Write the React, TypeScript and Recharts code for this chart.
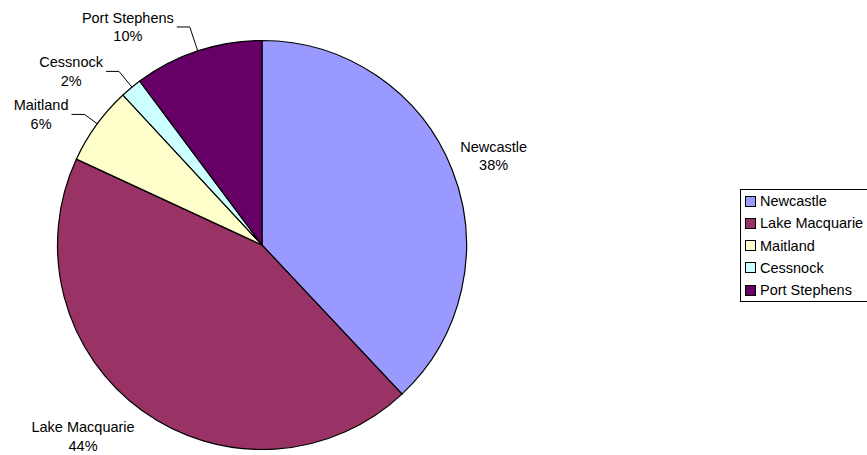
import React from 'react';
import { PieChart, Pie, Cell, Legend } from 'recharts';

const categories = ['Newcastle', 'Lake Macquarie', 'Maitland', 'Cessnock', 'Port Stephens'];
const shares = [38.0, 43.9, 6.2, 1.7, 10.2];
const colors = ['#9999FF', '#993366', '#FFFFCC', '#CCFFFF', '#660066'];

const data = categories.map((name, i) => ({ name, value: shares[i] }));

const FONT = '"Liberation Sans", Arial, sans-serif';
const FONT_SIZE = 14.5;
const LINE_H = 18.3;
const LABEL_GAP = 50;
const labelNudge: [number, number][] = [[-5, 5], [-30, -15], [-15, 19], [-28, 22], [-54, 23.5]];
const hasLeader = [false, false, true, true, true];
const RAD = Math.PI / 180;

let ctx: CanvasRenderingContext2D | null = null;
function textWidth(s: string): number {
  if (!ctx) {
    const c = document.createElement('canvas');
    ctx = c.getContext('2d');
  }
  if (!ctx) return s.length * FONT_SIZE * 0.55;
  ctx.font = `${FONT_SIZE}px "Liberation Sans", Arial, sans-serif`;
  return ctx.measureText(s).width;
}

function renderLabel(props: any) {
  const { cx, cy, midAngle, outerRadius, index, percent, name } = props;
  const r = outerRadius + LABEL_GAP;
  const x = cx + r * Math.cos(-midAngle * RAD) + labelNudge[index][0];
  const y = cy + r * Math.sin(-midAngle * RAD) + labelNudge[index][1];
  const pct = `${Math.round(percent * 100)}%`;
  let leader = null;
  if (hasLeader[index]) {
    const w = Math.max(textWidth(name), textWidth(pct));
    const x0 = x + w / 2 + 3;
    const ex = x0 + 13;
    const ey = y;
    const ang = Math.atan2(ey - cy, ex - cx);
    const px = cx + outerRadius * Math.cos(ang);
    const py = cy + outerRadius * Math.sin(ang);
    leader = (
      <polyline
        points={`${x0},${ey} ${ex},${ey} ${px},${py}`}
        fill="none"
        stroke="#000"
        strokeWidth={1}
      />
    );
  }
  return (
    <g key={`lbl-${index}`}>
      {leader}
      <text
        x={x}
        y={y}
        textAnchor="middle"
        fontFamily={FONT}
        fontSize={FONT_SIZE}
        fill="#000"
      >
        <tspan x={x} y={y - LINE_H / 2} dominantBaseline="central">{name}</tspan>
        <tspan x={x} y={y + LINE_H / 2} dominantBaseline="central">{pct}</tspan>
      </text>
    </g>
  );
}

function LegendBox() {
  return (
    <div
      style={{
        border: '1px solid #000',
        background: '#fff',
        fontFamily: FONT,
        fontSize: FONT_SIZE,
        color: '#000',
        width: 135,
        boxSizing: 'border-box',
        paddingTop: 0,
      }}
    >
      {categories.map((c, i) => (
        <div key={c} style={{ display: 'flex', alignItems: 'center', height: 22.25 }}>
          <span
            style={{
              display: 'inline-block',
              width: 11,
              height: 11,
              boxSizing: 'border-box',
              border: '1px solid #000',
              background: colors[i],
              marginLeft: 4,
              marginRight: 4,
            }}
          />
          <span style={{ whiteSpace: 'nowrap' }}>{c}</span>
        </div>
      ))}
    </div>
  );
}

export default function App() {
  return (
    <div style={{ position: 'absolute', left: 0, top: 0, width: 867, height: 455, background: '#fff' }}>
      <PieChart width={867} height={455} margin={{ top: 0, right: 0, bottom: 0, left: 0 }}>
        <Pie
          data={data}
          dataKey="value"
          nameKey="name"
          cx={262}
          cy={245}
          outerRadius={204.5}
          startAngle={90}
          endAngle={-270}
          isAnimationActive={false}
          label={renderLabel}
          labelLine={false}
          stroke="#000"
          strokeWidth={1.2}
        >
          {data.map((d, i) => (
            <Cell key={d.name} fill={colors[i]} stroke="#000" strokeWidth={1.2} />
          ))}
        </Pie>
        <Legend
          layout="vertical"
          align="right"
          verticalAlign="middle"
          wrapperStyle={{ left: 740, top: 189, right: 'auto', bottom: 'auto', width: 135 }}
          content={() => <LegendBox />}
        />
      </PieChart>
    </div>
  );
}
